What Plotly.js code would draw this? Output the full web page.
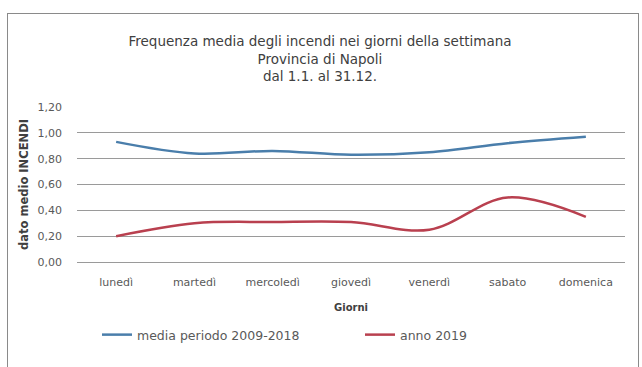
<!DOCTYPE html>
<html>
<head>
<meta charset="utf-8">
<script src="https://cdn.plot.ly/plotly-3.0.1.min.js"></script>
<style>
html,body{margin:0;padding:0;background:#fff;}
#wrap{position:relative;width:642px;height:367px;overflow:hidden;}
#frame{position:absolute;left:7px;top:13px;width:632px;height:370px;border:1px solid #8a8a8a;box-sizing:border-box;pointer-events:none;}
#chart{position:absolute;left:0;top:0;width:642px;height:367px;}
</style>
</head>
<body>
<div id="wrap">
<div id="chart"></div>
<div id="frame"></div>
</div>
<script>
const days = ["lunedì","martedì","mercoledì","giovedì","venerdì","sabato","domenica"];
const media20092018 = [0.93, 0.84, 0.86, 0.83, 0.85, 0.92, 0.97];
const anno2019 = [0.20, 0.30, 0.31, 0.31, 0.25, 0.50, 0.35];
const seriesNames = ["media periodo 2009-2018", "anno 2019"];
const yTicks = [0, 0.2, 0.4, 0.6, 0.8, 1.0, 1.2];

const fontFam = "DejaVu Sans, Verdana, sans-serif";

const traces = [
  {x: days, y: media20092018, name: seriesNames[0], type: "scatter", mode: "lines",
   legend: "legend",
   line: {color: "#4a7eab", width: 2.5, shape: "spline", smoothing: 1}},
  {x: days, y: anno2019, name: seriesNames[1], type: "scatter", mode: "lines",
   legend: "legend2",
   line: {color: "#b9404f", width: 2.5, shape: "spline", smoothing: 1}}
];

const legendCommon = {
  orientation: "h", xref: "container", yref: "container",
  xanchor: "left", yanchor: "middle", y: 1 - 335 / 367,
  font: {size: 12.5, color: "#595959"}, itemwidth: 30, bgcolor: "rgba(0,0,0,0)"
};

const layout = {
  width: 642, height: 367,
  margin: {l: 77, r: 17, t: 107, b: 105, autoexpand: false},
  paper_bgcolor: "#ffffff", plot_bgcolor: "#ffffff",
  separators: ",.",
  showlegend: true,
  font: {family: fontFam, size: 11, color: "#595959"},
  title: {
    text: "Frequenza media degli incendi nei giorni della settimana<br>Provincia di Napoli<br>dal 1.1. al 31.12.",
    font: {family: fontFam, size: 13.5, color: "#404040"},
    x: 320 / 642, xanchor: "center", xref: "container",
    y: 1 - 46 / 367, yanchor: "middle", yref: "container"
  },
  xaxis: {
    type: "category", range: [-0.5, 6.5], automargin: false,
    showgrid: false, zeroline: false, showline: false,
    ticks: "", ticklabelstandoff: 12,
    tickfont: {size: 11, color: "#595959"},
    title: {text: "<b>Giorni</b>", font: {size: 10, color: "#404040"}, standoff: 15}
  },
  yaxis: {
    range: [0, 1.2], tickvals: yTicks, tickformat: ".2f", automargin: false,
    showgrid: true, gridcolor: "#9a9a9a", gridwidth: 1,
    zeroline: true, zerolinecolor: "#9a9a9a", zerolinewidth: 1,
    showline: false, ticks: "", ticklabelstandoff: 14,
    tickfont: {size: 11, color: "#595959"},
    title: {text: "<b>dato medio INCENDI</b>", font: {size: 11.5, color: "#404040"}, standoff: 6}
  },
  legend: Object.assign({}, legendCommon, {x: 97 / 642}),
  legend2: Object.assign({}, legendCommon, {x: 360 / 642})
};

Plotly.newPlot("chart", traces, layout, {displayModeBar: false, staticPlot: true});
</script>
</body>
</html>
